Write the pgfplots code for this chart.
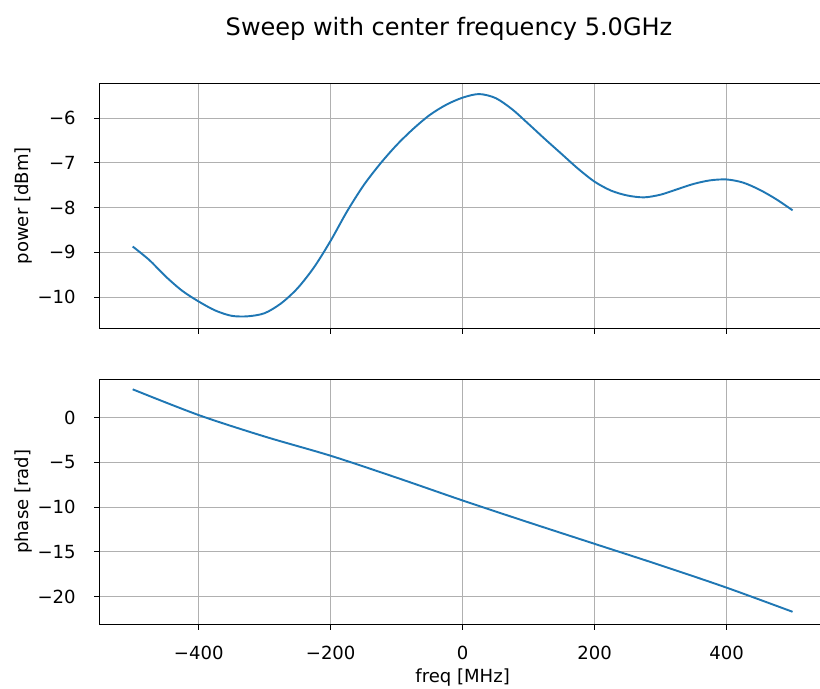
\documentclass[border=0pt]{standalone}
\usepackage{fontspec}
\setmainfont{DejaVu Sans}
\usepackage{pgfplots}
\pgfplotsset{compat=1.18}
\usetikzlibrary{calc}

\definecolor{mplblue}{HTML}{1F77B4}
\definecolor{mplgrid}{HTML}{B0B0B0}

% power sweep, every 25 MHz
\pgfplotstableread{
f      p
-500  -8.87
-475  -9.17
-450  -9.54
-425  -9.86
-400  -10.10
-375  -10.30
-350  -10.42
-325  -10.43
-300  -10.36
-275  -10.14
-250  -9.80
-225  -9.33
-200  -8.74
-175  -8.08
-150  -7.50
-125  -7.02
-100  -6.60
-75   -6.24
-50   -5.93
-25   -5.70
0     -5.54
25    -5.46
50    -5.55
75    -5.80
100   -6.13
125   -6.47
150   -6.80
175   -7.13
200   -7.42
225   -7.62
250   -7.73
275   -7.77
300   -7.71
325   -7.59
350   -7.47
375   -7.39
400   -7.37
425   -7.44
450   -7.60
475   -7.81
500   -8.06
}\powertable

\pgfplotstableread{
f      ph
-500   3.18
-400   0.30
-300  -2.10
-200  -4.25
-100  -6.70
0     -9.25
100   -11.70
200   -14.10
300   -16.50
400   -19.00
500   -21.70
}\phasetable

\pgfplotsset{
  sweep/.style={
    scale only axis,
    width=522.6pt,
    height=176.4pt,
    xmin=-550, xmax=550,
    xtick={-400,-200,0,200,400},
    tick pos=left,
    tick align=outside,
    major tick length=4pt,
    every tick/.style={black, line width=0.74pt},
    axis line style={line width=0.74pt},
    grid=major,
    major grid style={mplgrid, line width=0.74pt},
    tick label style={font=\fontsize{13}{15}\selectfont},
    xticklabel style={anchor=north, inner sep=0pt, yshift=-11.5pt},
    yticklabel style={anchor=east, inner sep=0pt, xshift=-13.1pt},
    every axis y label/.style={at={($(axis description cs:0,0.5)+(-55.2pt,0)$)},
      rotate=90, anchor=center, font=\fontsize{13}{15}\selectfont},
    every axis x label/.style={at={($(axis description cs:0.5,0)+(0,-42pt)$)},
      anchor=base, font=\fontsize{13}{15}\selectfont},
    anchor=north west,
  },
}

\begin{document}
\begin{tikzpicture}
\begin{axis}[sweep,
  at={(0pt,0pt)},
  xticklabels={},
  ymin=-10.70, ymax=-5.22,
  ytick={-10,-9,-8,-7,-6},
  yticklabels={−10,−9,−8,−7,−6},
  ylabel={power [dBm]},
]
\addplot[mplblue, line width=1.38pt, smooth] table[x=f, y=p] {\powertable};
\end{axis}

\begin{axis}[sweep,
  at={(0pt,-213.1pt)},
  xticklabels={−400,−200,0,200,400},
  ymin=-23.1, ymax=4.3,
  ytick={-20,-15,-10,-5,0},
  yticklabels={−20,−15,−10,−5,0},
  ylabel={phase [rad]},
  xlabel={freq [MHz]},
]
\addplot[mplblue, line width=1.38pt, smooth] table[x=f, y=ph] {\phasetable};
\end{axis}

\node[anchor=base, font=\fontsize{17.3}{20}\selectfont] at (251.5pt, 34.3pt) {Sweep with center frequency 5.0GHz};

\pgfresetboundingbox
\path[use as bounding box] (-71.8pt, 60.0pt) rectangle (518.6pt, -435.4pt);
\end{tikzpicture}
\end{document}
